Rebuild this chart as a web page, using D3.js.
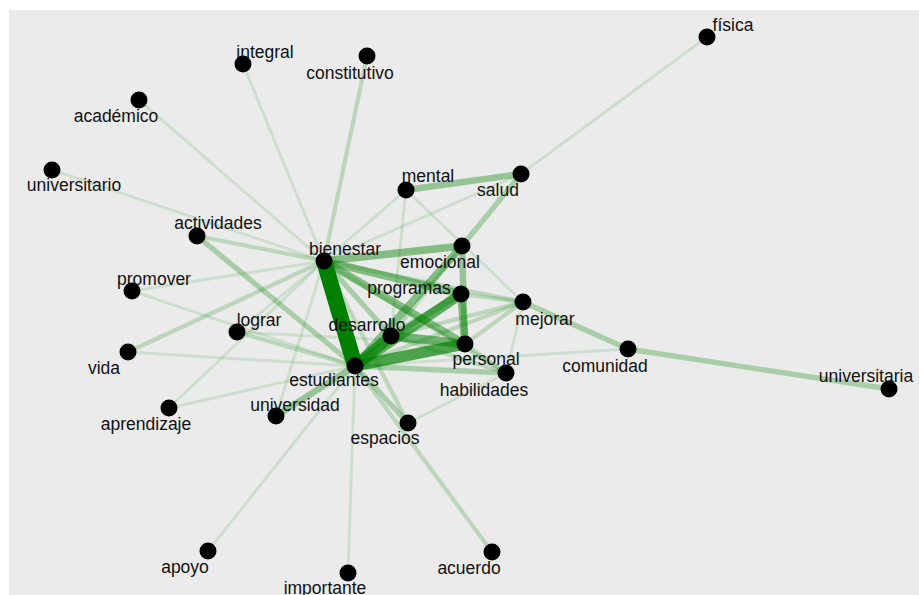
<!DOCTYPE html>
<html>
<head>
<meta charset="utf-8">
<script src="https://d3js.org/d3.v7.min.js"></script>
<style>
  body { margin: 0; background: #fff; }
  text { font-family: "Liberation Sans", Arial, sans-serif; font-size: 17.5px; fill: #111; }
</style>
</head>
<body>
<script>
// node layout (layout units)
var nodeNames = ["física","integral","constitutivo","académico","universitario","mental","salud",
  "actividades","bienestar","emocional","promover","programas","mejorar","lograr","desarrollo",
  "personal","comunidad","vida","estudiantes","habilidades","universitaria","aprendizaje",
  "universidad","espacios","apoyo","acuerdo","importante"];
var nodeX = [707,243,367,139,52,406,521,197,324,462,132,461,523,237,391,465,628,128,355,506,889,169,276,408,208,492,348];
var nodeY = [37,64,56,100,170,190,174,236,261,246,291,294,302,332,336,344,349,352,366,373,389,408,416,423,551,552,573];

// co-occurrence edges: from, to, n
var edgeFrom = ["bienestar","desarrollo","personal","programas","emocional","desarrollo","programas","emocional",
  "bienestar","bienestar","bienestar","bienestar","desarrollo","mental","comunidad","mejorar","actividades",
  "universidad","espacios","salud","habilidades","habilidades","habilidades","bienestar","mejorar","mejorar",
  "mejorar","mejorar","bienestar","acuerdo","bienestar","actividades","vida","constitutivo","lograr","emocional",
  "bienestar","mental","mental","mental","física","estudiantes","integral","académico","universitario",
  "promover","promover","vida","lograr","lograr","aprendizaje","aprendizaje","apoyo","importante",
  "universidad","espacios","habilidades"];
var edgeTo = ["estudiantes","estudiantes","estudiantes","estudiantes","estudiantes","personal","personal","personal",
  "emocional","programas","personal","desarrollo","programas","salud","universitaria","comunidad","estudiantes",
  "estudiantes","estudiantes","emocional","estudiantes","personal","desarrollo","mejorar","programas","personal",
  "desarrollo","estudiantes","espacios","estudiantes","habilidades","bienestar","bienestar","bienestar","estudiantes","desarrollo",
  "salud","bienestar","desarrollo","mejorar","salud","comunidad","bienestar","bienestar","bienestar",
  "bienestar","estudiantes","estudiantes","bienestar","personal","estudiantes","bienestar","estudiantes","estudiantes",
  "bienestar","habilidades","mejorar"];
var edgeN = [12,8,8,7,5,6,5,4,
  5,5,5,3,4,4,3,3,3,
  4,3,3,3,2,2,2,2,2,
  2,2,2,2,2,2,2,2,2,2,
  1,1,1,1,1,1,1,1,1,
  1,1,1,1,1,1,1,1,1,
  1,1,1];

var width = 919, height = 595;
var panel = {left: 9, top: 10, right: 919, bottom: 595};

var svg = d3.select("body").append("svg")
    .attr("width", width)
    .attr("height", height);

svg.append("rect")
    .attr("x", panel.left).attr("y", panel.top)
    .attr("width", panel.right - panel.left)
    .attr("height", panel.bottom - panel.top)
    .attr("fill", "#ebebeb");

var x = d3.scaleLinear().domain(d3.extent(nodeX)).range([52, 889]);
var y = d3.scaleLinear().domain(d3.extent(nodeY)).range([37, 573]);

var nodes = nodeNames.map(function (name, i) {
    return {name: name, x: x(nodeX[i]), y: y(nodeY[i])};
});
var byName = {};
nodes.forEach(function (d) { byName[d.name] = d; });

var links = edgeFrom.map(function (f, i) {
    return {source: byName[f], target: byName[edgeTo[i]], n: edgeN[i]};
});

var widthScale = d3.scaleLinear().domain([1, 12]).range([3, 16]);
var alphaScale = d3.scaleLinear().domain([1, 12]).range([0.12, 1]);

// thin ones first so the heavy edges sit on top
links.sort(function (a, b) { return a.n - b.n; });

svg.append("g")
    .selectAll("line")
    .data(links)
    .enter().append("line")
    .attr("x1", function (d) { return d.source.x; })
    .attr("y1", function (d) { return d.source.y; })
    .attr("x2", function (d) { return d.target.x; })
    .attr("y2", function (d) { return d.target.y; })
    .attr("stroke", "#008000")
    .attr("stroke-opacity", function (d) { return alphaScale(d.n); })
    .attr("stroke-width", function (d) { return widthScale(d.n); })
    .attr("stroke-linecap", "butt");

svg.append("g")
    .selectAll("circle")
    .data(nodes)
    .enter().append("circle")
    .attr("cx", function (d) { return d.x; })
    .attr("cy", function (d) { return d.y; })
    .attr("r", 8.5)
    .attr("fill", "#000");

// label nudges (px) as placed by the repel step
var labelOffsets = {
    "física": [26,-12], "integral": [22,-12], "constitutivo": [-17,17], "académico": [-23,16],
    "universitario": [22,15], "mental": [22,-14], "salud": [-23,16], "actividades": [21,-13],
    "bienestar": [21,-12], "emocional": [-22,16], "promover": [22,-12], "programas": [-52,-6],
    "mejorar": [22,17], "lograr": [22,-12], "desarrollo": [-24,-11], "personal": [21,15],
    "comunidad": [-23,17], "vida": [-24,16], "estudiantes": [-21,14], "habilidades": [-22,17],
    "universitaria": [-23,-13], "aprendizaje": [-23,16], "universidad": [19,-11], "espacios": [-23,15],
    "apoyo": [-23,16], "acuerdo": [-23,16], "importante": [-23,15]
};

svg.append("g")
    .selectAll("text")
    .data(nodes)
    .enter().append("text")
    .attr("x", function (d) { return d.x + labelOffsets[d.name][0]; })
    .attr("y", function (d) { return d.y + labelOffsets[d.name][1]; })
    .attr("dy", "0.36em")
    .attr("text-anchor", "middle")
    .text(function (d) { return d.name; });
</script>
</body>
</html>
